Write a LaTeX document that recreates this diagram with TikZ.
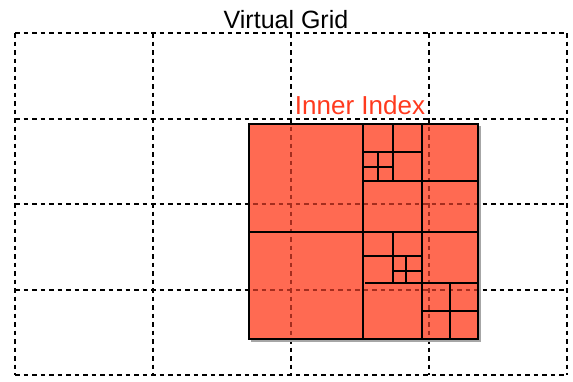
\documentclass[tikz,border=0pt]{standalone}
\usepackage{fontspec}
\setmainfont{Liberation Sans}
\definecolor{cellred}{RGB}{255,106,82}
\definecolor{labelred}{RGB}{255,58,30}
\definecolor{dashred}{RGB}{165,45,30}
\begin{document}
\begin{tikzpicture}[x=1pt,y=-1pt,
  gridline/.style={line width=1.5pt,dash pattern=on 4.5pt off 4pt},
  quad/.style={line width=2pt,line cap=rect},
  lbl/.style={font=\fontsize{25}{30}\selectfont,anchor=base,inner sep=0pt}]
\useasboundingbox (0,0) rectangle (573,381);
% virtual grid
\foreach \x in {15,153,291,429,567} \draw[gridline] (\x,33) -- (\x,375);
\foreach \y in {33,119,204,290,375} \draw[gridline] (15,\y) -- (567,\y);
% shadow
\draw[line width=1.2pt,black!35] (480,126) -- (480,341) -- (251,341);
% inner index box
\fill[cellred] (249,124) rectangle (478,339);
\begin{scope}
\clip (249,124) rectangle (478,339);
\foreach \x in {291,429} \draw[gridline,dashred] (\x,33) -- (\x,375);
\foreach \y in {204,290} \draw[gridline,dashred] (15,\y) -- (567,\y);
\end{scope}
% quadtree subdivisions
\draw[quad] (363,124) -- (363,339) (249,232) -- (478,232);
\draw[quad] (422,124) -- (422,232) (363,181) -- (478,181);
\draw[quad] (393,124) -- (393,181) (363,152) -- (422,152);
\draw[quad] (378,152) -- (378,181) (363,167) -- (393,167);
\draw[quad] (422,232) -- (422,339) (366,283) -- (478,283);
\draw[quad] (392.5,232) -- (392.5,283) (363,256) -- (422,256);
\draw[quad] (406,256) -- (406,283) (392.5,270.5) -- (422,270.5);
\draw[quad] (449.5,283) -- (449.5,339) (422,311) -- (478,311);
\draw[line width=2.5pt] (249,124) rectangle (478,339);
% labels
\node[lbl] (vg) at (286,28) {Virtual Grid};
\node[lbl,text=labelred,font=\fontsize{26}{30}\selectfont] (ii) at (360,114) {Inner Index};
\end{tikzpicture}
\end{document}
